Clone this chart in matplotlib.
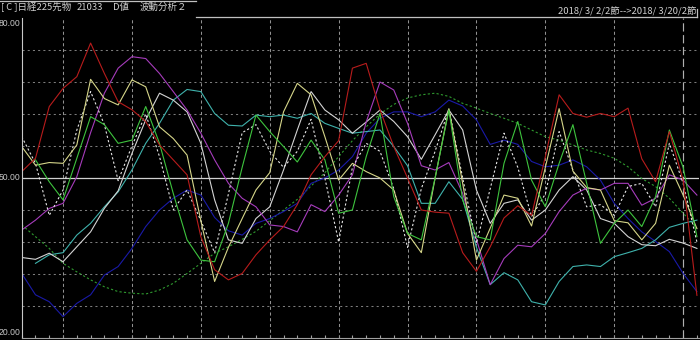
import numpy as np
import matplotlib
matplotlib.use("Agg")
import matplotlib.pyplot as plt
from matplotlib.lines import Line2D

plt.rcParams['font.family'] = ['Noto Sans CJK JP', 'DejaVu Sans']

nan = np.nan

# values, one per session (50 sessions)
red = [51.2, 53.7, 63.4, 66.8, 69.0, 75.3, 69.6, 64.3, 62.8, 60.6,
       56.2, 53.4, 50.6, 39.0, 32.8, 30.9, 32.1, 35.6, 38.4, 40.9,
       45.0, 50.6, 54.0, 57.0, 70.6, 71.5, 62.8, 55.9, 50.0, 44.0,
       43.6, 43.4, 36.0, 32.5, 37.1, 42.5, 44.8, 43.0, 54.0, 65.6,
       62.1, 61.4, 62.1, 61.5, 63.1, 53.6, 49.3, 58.7, 49.6, 28.0]
yellow = [55.9, 52.4, 52.9, 52.75, 56.2, 68.5, 64.9, 63.7, 68.4, 67.1,
          59.6, 57.4, 54.3, 42.0, 30.6, 37.0, 42.4, 47.75, 51.0, 62.4,
          67.75, 65.6, 57.75, 49.6, 52.75, 51.2, 50.0, 47.75, 39.6, 36.0,
          50.0, 63.0, 49.0, 34.6, 40.6, 46.8, 46.2, 41.0, 52.0, 63.0,
          51.3, 48.2, 47.75, 42.0, 41.6, 38.4, 41.5, 52.4, 46.8, 40.5]
white_dot = [57.75, 52.75, 43.0, 47.75, 59.0, 66.2, 60.0, 49.5, 56.0, 62.0,
             54.0, 44.0, 47.75, 42.0, 36.0, 47.0, 58.5, 60.0, 55.0, 52.0,
             55.0, 61.0, 50.0, 38.0, 52.0, 56.5, 55.0, 48.0, 37.0, 48.0,
             55.0, 63.0, 50.0, 37.75, 48.0, 58.4, 52.0, 42.75, 47.0, 58.7,
             51.5, 44.6, 45.0, 43.0, 48.4, 49.0, 44.6, 56.5, 49.0, 38.0]
green = [nan, 53.4, 49.3, 45.9, 53.7, 61.5, 60.0, 56.5, 57.1, 63.4,
         56.5, 47.1, 38.4, 34.6, 34.3, 41.5, 52.0, 61.8, 58.7, 55.9,
         53.0, 57.1, 53.4, 43.4, 44.0, 54.0, 62.1, 46.5, 39.6, 38.4,
         50.0, 62.75, 45.9, 39.0, 38.4, 52.75, 60.6, 49.6, 44.6, 52.75,
         60.0, 49.0, 37.75, 41.5, 44.0, 40.9, 46.5, 59.0, 52.0, 39.0]
magenta = [40.25, 42.1, 44.3, 45.25, 50.25, 58.5, 65.9, 70.6, 72.75, 72.4,
           69.6, 66.2, 62.75, 58.4, 53.4, 49.0, 46.2, 44.6, 41.2, 40.9,
           39.9, 45.0, 43.7, 46.8, 50.6, 60.5, 68.0, 66.5, 60.25, 52.3,
           51.5, 52.9, 47.1, 38.5, 30.0, 34.9, 37.4, 37.1, 39.6, 43.7,
           46.8, 48.1, 47.75, 49.0, 49.0, 44.9, 46.2, 50.6, 49.6, 46.8]
gray = [35.1, 34.75, 35.9, 34.3, 37.1, 39.9, 44.3, 47.6, 54.6, 60.9,
        65.9, 64.6, 62.4, 56.5, 45.9, 38.4, 37.75, 42.4, 44.6, 51.5,
        59.0, 66.2, 62.75, 60.9, 58.4, 60.5, 62.75, 60.6, 57.75, 53.5,
        58.1, 62.75, 59.0, 47.75, 41.5, 45.25, 45.9, 42.1, 44.0, 47.75,
        50.25, 47.75, 42.4, 41.5, 39.0, 37.5, 37.3, 38.5, 37.8, 36.8]
teal = [nan, 34.0, 35.6, 36.0, 39.3, 41.5, 44.6, 47.4, 51.5, 56.5,
        60.25, 64.6, 66.6, 66.2, 62.1, 59.9, 59.75, 61.8, 61.5, 61.8,
        61.2, 62.1, 60.25, 59.3, 58.4, 58.7, 59.0, 55.9, 52.3, 45.25,
        45.25, 49.3, 46.0, 37.0, 30.0, 32.25, 30.9, 26.8, 26.2, 30.6,
        33.4, 33.7, 33.4, 35.25, 36.0, 36.8, 38.4, 40.75, 41.5, 42.1]
blue = [32.1, 28.1, 26.8, 24.0, 26.5, 28.1, 31.8, 33.4, 36.8, 40.9,
        44.0, 46.2, 47.75, 46.8, 42.6, 40.1, 39.3, 41.5, 42.4, 43.7,
        45.25, 49.0, 50.0, 51.5, 54.0, 58.4, 61.2, 62.4, 62.4, 61.5,
        62.4, 64.6, 63.5, 60.9, 56.3, 57.1, 56.3, 53.1, 52.1, 52.4,
        53.4, 52.1, 49.6, 45.25, 42.4, 39.9, 38.1, 36.2, 32.1, 28.7]
green_dot = [41.2, 39.0, 36.8, 34.0, 32.4, 30.9, 29.6, 28.7, 28.4, 28.25,
             29.0, 30.25, 32.1, 34.0, 35.9, 37.1, 38.5, 40.0, 42.0, 44.0,
             46.0, 48.5, 51.0, 54.0, 57.0, 59.6, 62.0, 63.8, 65.0, 65.6,
             65.9, 65.3, 64.0, 63.1, 62.1, 61.2, 60.25, 59.0, 57.75, 57.1,
             56.2, 55.25, 54.6, 53.7, 52.1, 49.9, 48.4, 46.2, 43.4, 40.6]

y_labels = ["80.00", "50.00", "20.00"]
grid_levels = [74, 68, 62, 56, 44, 38, 32, 26]
vgrid = [3, 8, 13, 18, 23, 28, 33, 38, 43]
today = 48

W, H = 700, 340
fig = plt.figure(figsize=(7, 3.4), dpi=100, facecolor="black")

x0, x1, ytop, ybot = 21.7, 699, 18, 338
ax = fig.add_axes([x0 / W, (H - ybot) / H, (x1 - x0) / W, (ybot - ytop) / H])
ax.set_facecolor("black")
n = len(red)
x = np.arange(n)
ax.set_xlim(0, (x1 - x0) / 13.78)
ax.set_ylim(20, 80)

for lv in grid_levels:
    ax.axhline(lv, color="#7c7c7c", lw=0.75, ls=(0, (2, 3)))
for v in vgrid:
    ax.axvline(v, color="#909090", lw=0.75, ls=(0, (3, 2.5)))
ax.axvline(today, color="#b0b0b0", lw=0.85, ls=(0, (7, 3)))
ax.axhline(50, color="#d0d0d0", lw=0.9)

series = [
    (green_dot, "#2f9a2f", (0, (2, 2))),
    (blue, "#1a1aa8", "-"),
    (teal, "#3fb2ac", "-"),
    (gray, "#d4d4d4", "-"),
    (magenta, "#a63cbc", "-"),
    (white_dot, "#e6e6e6", (0, (2, 2))),
    (yellow, "#d6d68a", "-"),
    (green, "#3ec43e", "-"),
    (red, "#b81c1c", "-"),
]
for vals, col, ls in series:
    ax.plot(x, vals, color=col, lw=0.8, ls=ls)

for s in ["top", "right"]:
    ax.spines[s].set_visible(False)
ax.spines["left"].set_color("#c8c8c8")
ax.spines["bottom"].set_color("#a0a0a0")
ax.set_xticks(x)
ax.set_xticklabels([])
ax.set_yticks([])
ax.tick_params(axis="x", direction="in", length=2.5, color="#a0a0a0", width=0.8)

# y labels sit left of the plot area
lab_font = dict(color="#c8c8c8", fontsize=6.2, family=["Liberation Sans", "DejaVu Sans"])
fig.text(20.5 / W, 1 - 19 / H, y_labels[0], ha="right", va="top", **lab_font)
fig.text(20.5 / W, 1 - 178 / H, y_labels[1], ha="right", va="center", **lab_font)
fig.text(20.5 / W, 1 - 337 / H, y_labels[2], ha="right", va="bottom", **lab_font)

# header
hdr = dict(color="#d0d0d0", fontsize=6.8, va="center")
fig.text(1 / W, 1 - 7 / H, "[ C ]日経225先物", ha="left", **hdr)
fig.text(77 / W, 1 - 7 / H, "21033", ha="left", **hdr)
fig.text(113 / W, 1 - 7 / H, "D値", ha="left", **hdr)
fig.text(140 / W, 1 - 7 / H, "波動分析２", ha="left", **hdr)
fig.text(696 / W, 1 - 11.5 / H, "2018/ 3/ 2/2節-->2018/ 3/20/2節", ha="right", **hdr)

fig.add_artist(Line2D([0, 196 / W], [1 - 1 / H, 1 - 1 / H], color="#c0c0c0", lw=0.9))
fig.add_artist(Line2D([196 / W, 697 / W], [1 - 16.5 / H, 1 - 16.5 / H], color="#c0c0c0", lw=0.9))
fig.add_artist(Line2D([697 / W, 697 / W], [1 - 9 / H, 1 - 17 / H], color="#c0c0c0", lw=0.9))

fig.savefig("out.png", dpi=100, facecolor="black")
